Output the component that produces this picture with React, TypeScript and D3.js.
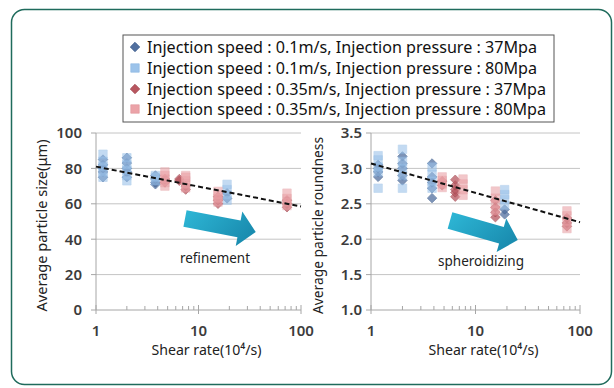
import React from "react";
import * as d3 from "d3";

const FONT = "'Noto Sans', 'Open Sans', sans-serif";

// ---------- data ----------
const legendLabels = [
  "Injection speed : 0.1m/s, Injection pressure : 37Mpa",
  "Injection speed : 0.1m/s, Injection pressure : 80Mpa",
  "Injection speed : 0.35m/s, Injection pressure : 37Mpa",
  "Injection speed : 0.35m/s, Injection pressure : 80Mpa",
];
const legendTextLengths = [390, 390, 399, 399];

const sizeTicks = [0, 20, 40, 60, 80, 100];
const roundTicks = [1.0, 1.5, 2.0, 2.5, 3.0, 3.5];
const xMajorTicks = [1, 10, 100];
const xMinorTicks = [2, 3, 4, 5, 6, 7, 8, 9, 20, 30, 40, 50, 60, 70, 80, 90];

type Cluster = [number, number[]];

// Average particle size (µm)
const sizeA: Cluster[] = [
  [1.17, [75, 78, 80, 82, 85]],
  [2.0, [75, 78, 80, 83, 86]],
  [3.8, [71, 72, 74, 76]],
  [19, [63, 66]],
];
const sizeB: Cluster[] = [
  [1.17, [75, 78, 81, 84, 88]],
  [2.0, [73, 76, 79, 82, 86]],
  [3.8, [73, 75, 76]],
  [19, [62, 65, 68, 71]],
];
const sizeC: Cluster[] = [
  [4.7, [72, 74]],
  [6.5, [73, 74]],
  [7.5, [68, 70]],
  [15.5, [60, 62, 64]],
  [73, [58, 60, 62]],
];
const sizeD: Cluster[] = [
  [4.7, [70, 72, 74, 76, 78]],
  [7.5, [69, 71, 73, 75, 76]],
  [15.5, [61, 63, 65, 67]],
  [73, [59, 61, 63, 66]],
];
const sizeTrend: [number, number][] = [[1, 81], [100, 58.5]];

// Average particle roundness
const roundA: Cluster[] = [
  [1.17, [2.88, 2.95, 3.0, 3.05]],
  [2.0, [2.83, 2.9, 3.0, 3.07, 3.17]],
  [3.84, [2.58, 2.72, 2.8, 2.88, 3.07]],
  [19, [2.35, 2.42]],
];
const roundB: Cluster[] = [
  [1.17, [2.72, 2.95, 3.02, 3.12, 3.18]],
  [2.0, [2.72, 2.9, 3.0, 3.1, 3.27]],
  [3.84, [2.72, 2.82, 2.92, 3.02]],
  [19, [2.48, 2.56, 2.63, 2.7]],
];
const roundC: Cluster[] = [
  [4.8, [2.76, 2.82]],
  [6.4, [2.6, 2.66, 2.7, 2.76, 2.84]],
  [15.5, [2.31, 2.38, 2.45, 2.55]],
  [75, [2.18, 2.23, 2.3]],
];
const roundD: Cluster[] = [
  [4.8, [2.73, 2.78, 2.83, 2.88]],
  [7.6, [2.62, 2.7, 2.78, 2.85]],
  [15.5, [2.4, 2.5, 2.58, 2.68]],
  [75, [2.15, 2.25, 2.33, 2.4]],
];
const roundTrend: [number, number][] = [[1, 3.07], [100, 2.24]];

// ---------- styles ----------
const seriesStyles = [
  { shape: "diamond", fill: "#52709f", stroke: "#3f5e8e", opacity: 0.75 },
  { shape: "square", fill: "#9cc3ea", stroke: "#8cb7e2", opacity: 0.6 },
  { shape: "diamond", fill: "#b8565f", stroke: "#a44852", opacity: 0.75 },
  { shape: "square", fill: "#eba3a8", stroke: "#e0959b", opacity: 0.6 },
];

const diamondPath = d3.symbol(d3.symbolSquare, 44)()!;
const squarePath = d3.symbol(d3.symbolSquare, 72)()!;

function Marker({ x, y, s }: { x: number; y: number; s: any }) {
  if (s.shape === "diamond") {
    return (
      <path
        d={diamondPath}
        transform={`translate(${x},${y}) rotate(45)`}
        fill={s.fill}
        stroke={s.stroke}
        strokeWidth={0.8}
        opacity={s.opacity}
      />
    );
  }
  return (
    <path
      d={squarePath}
      transform={`translate(${x},${y})`}
      fill={s.fill}
      stroke={s.stroke}
      strokeWidth={0.6}
      opacity={s.opacity}
    />
  );
}

function Arrow({ x, y, angle, length, id }: { x: number; y: number; angle: number; length: number; id: string }) {
  const sw = 8.5;
  const hw = 17.5;
  const hl = 17;
  const pts = [
    [0, -sw],
    [length - hl, -sw],
    [length - hl, -hw],
    [length, 0],
    [length - hl, hw],
    [length - hl, sw],
    [0, sw],
  ]
    .map((p) => p.join(","))
    .join(" ");
  return (
    <g transform={`translate(${x},${y}) rotate(${angle})`}>
      <polygon points={pts} fill={`url(#${id})`} />
    </g>
  );
}

type PanelProps = {
  left: number;
  right: number;
  top: number;
  bottom: number;
  domain: [number, number];
  ticks: number[];
  fmt: (v: number) => string;
  series: Cluster[][];
  trend: [number, number][];
  yLabel: string;
  yLabelX: number;
  yLabelLen: number;
  labelRight: number;
  arrow: { x: number; y: number; angle: number; length: number };
  note: string;
  noteX: number;
  noteY: number;
  noteLen: number;
  gid: string;
};

function Panel(p: PanelProps) {
  const x = d3.scaleLog().domain([1, 100]).range([p.left, p.right]);
  const y = d3.scaleLinear().domain(p.domain).range([p.bottom, p.top]);
  const line = d3
    .line<[number, number]>()
    .x((d) => x(d[0]))
    .y((d) => y(d[1]));
  const axisCol = "#a6a6a6";
  const gridCol = "#c4c4c4";
  const tickCol = "#3c3c3c";
  const cx = (p.left + p.right) / 2;
  return (
    <g>
      {/* gridlines */}
      {p.ticks.slice(1).map((t) => (
        <line key={"g" + t} x1={p.left} x2={p.right} y1={y(t)} y2={y(t)} stroke={gridCol} strokeWidth={1} />
      ))}
      {/* y axis */}
      <line x1={p.left} x2={p.left} y1={p.top} y2={p.bottom} stroke={axisCol} strokeWidth={1} />
      {p.ticks.map((t) => (
        <line key={"yt" + t} x1={p.left - 5} x2={p.left} y1={y(t)} y2={y(t)} stroke={axisCol} strokeWidth={1} />
      ))}
      {p.ticks.map((t) => (
        <text
          key={"yl" + t}
          x={p.labelRight}
          y={y(t)}
          dy="0.36em"
          textAnchor="end"
          fontFamily={FONT}
          fontSize={15}
          fontWeight={600}
          fill={tickCol}
        >
          {p.fmt(t)}
        </text>
      ))}
      {/* x axis */}
      <line x1={p.left} x2={p.right} y1={p.bottom} y2={p.bottom} stroke={axisCol} strokeWidth={1} />
      {xMinorTicks.map((t) => (
        <line key={"mt" + t} x1={x(t)} x2={x(t)} y1={p.bottom - 4} y2={p.bottom} stroke={axisCol} strokeWidth={1} />
      ))}
      {xMajorTicks.map((t) => (
        <line key={"Mt" + t} x1={x(t)} x2={x(t)} y1={p.bottom - 5} y2={p.bottom + 4} stroke={axisCol} strokeWidth={1} />
      ))}
      {xMajorTicks.map((t) => (
        <text
          key={"xl" + t}
          x={x(t)}
          y={p.bottom + 26}
          textAnchor="middle"
          fontFamily={FONT}
          fontSize={15}
          fontWeight={600}
          fill={tickCol}
        >
          {t}
        </text>
      ))}
      <text
        x={cx + 8}
        y={p.bottom + 45}
        textAnchor="middle"
        fontFamily={FONT}
        fontSize={15}
        fill="#222"
        textLength={110}
        lengthAdjust="spacingAndGlyphs"
      >
        Shear rate(10⁴/s)
      </text>
      <text
        transform={`translate(${p.yLabelX},${(p.top + p.bottom) / 2 + 4}) rotate(-90)`}
        textAnchor="middle"
        fontFamily={FONT}
        fontSize={15}
        fill="#222"
        textLength={p.yLabelLen}
        lengthAdjust="spacingAndGlyphs"
      >
        {p.yLabel}
      </text>
      {/* markers */}
      {p.series.map((ser, si) =>
        ser.map(([xv, ys], ci) =>
          ys.map((yv, k) => <Marker key={`${si}-${ci}-${k}`} x={x(xv)} y={y(yv)} s={seriesStyles[si]} />)
        )
      )}
      {/* trend */}
      <path d={line(p.trend)!} fill="none" stroke="#111" strokeWidth={2} strokeDasharray="5,3" />
      <Arrow {...p.arrow} id={p.gid} />
      <text
        x={p.noteX}
        y={p.noteY}
        textAnchor="middle"
        fontFamily={FONT}
        fontSize={14}
        fill="#222"
        textLength={p.noteLen}
        lengthAdjust="spacingAndGlyphs"
      >
        {p.note}
      </text>
    </g>
  );
}

export default function App() {
  const legendX = 123;
  const legendRows = [47, 68, 89, 109];
  return (
    <svg
      width={614}
      height={388}
      style={{ position: "absolute", left: 0, top: 0, background: "#fff" }}
    >
      <defs>
        <linearGradient id="arrL" x1="0" y1="0" x2="1" y2="0.3">
          <stop offset="0" stopColor="#2fb9d8" />
          <stop offset="1" stopColor="#1a8db0" />
        </linearGradient>
        <linearGradient id="arrR" x1="0" y1="0" x2="1" y2="0.3">
          <stop offset="0" stopColor="#2fb9d8" />
          <stop offset="1" stopColor="#1a8db0" />
        </linearGradient>
      </defs>
      <rect x={11.5} y={9.5} width={600} height={375} rx={13} fill="#fff" stroke="#1f6b5c" strokeWidth={1.5} />

      {/* legend */}
      <rect x={legendX} y={35} width={431} height={87} fill="#fff" stroke="#555" strokeWidth={1} />
      {legendLabels.map((lab, i) => (
        <g key={lab}>
          <Marker x={legendX + 12} y={legendRows[i]} s={{ ...seriesStyles[i], opacity: 1 }} />
          <text
            x={legendX + 24}
            y={legendRows[i] + 5.5}
            fontFamily={FONT}
            fontSize={16}
            fill="#111"
            textLength={legendTextLengths[i]}
            lengthAdjust="spacingAndGlyphs"
          >
            {lab}
          </text>
        </g>
      ))}

      <Panel
        left={96}
        right={301}
        top={133}
        bottom={310}
        domain={[0, 100]}
        ticks={sizeTicks}
        fmt={(v) => String(v)}
        series={[sizeA, sizeB, sizeC, sizeD]}
        trend={sizeTrend}
        yLabel="Average particle size(μm)"
        yLabelX={47}
        yLabelLen={172}
        labelRight={82}
        arrow={{ x: 185, y: 218.5, angle: 10.8, length: 72 }}
        note="refinement"
        noteX={215}
        noteY={263}
        noteLen={70}
        gid="arrL"
      />
      <Panel
        left={371}
        right={580}
        top={133}
        bottom={310}
        domain={[1, 3.5]}
        ticks={roundTicks}
        fmt={(v) => v.toFixed(1)}
        series={[roundA, roundB, roundC, roundD]}
        trend={roundTrend}
        yLabel="Average particle roundness"
        yLabelX={323}
        yLabelLen={177}
        labelRight={362}
        arrow={{ x: 450, y: 220.5, angle: 16, length: 70.5 }}
        note="spheroidizing"
        noteX={481}
        noteY={266}
        noteLen={86}
        gid="arrR"
      />
    </svg>
  );
}
